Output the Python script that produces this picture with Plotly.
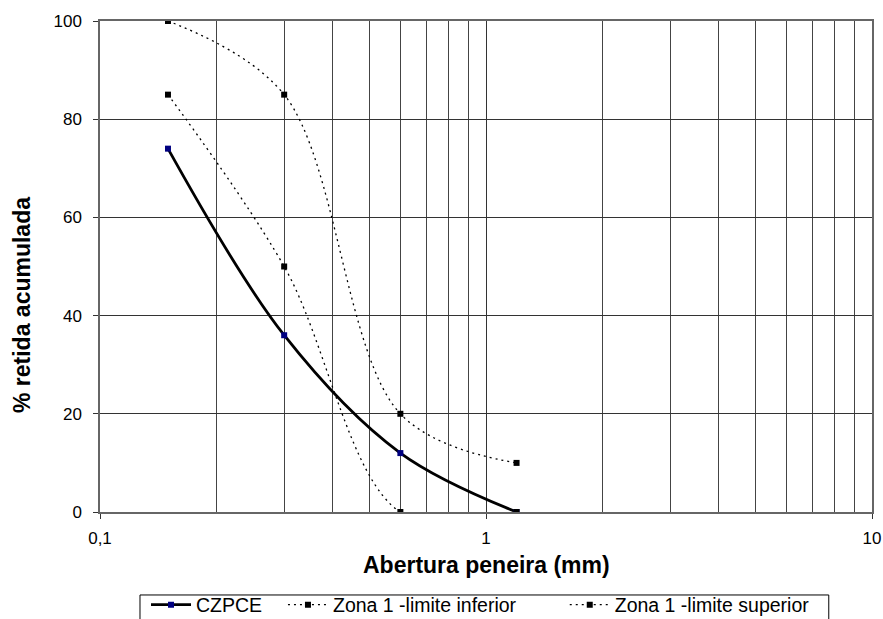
import plotly.graph_objects as go

# Data
abertura = [0.15, 0.3, 0.6, 1.2]
czpce = [74, 36, 12, 0]
lim_inferior = [85, 50, 0, 0]
lim_superior = [100, 85, 20, 10]

x_tickvals = [0.1, 1, 10]
x_ticktext = ["0,1", "1", "10"]
y_tickvals = [0, 20, 40, 60, 80, 100]

x_title = "Abertura peneira (mm)"
y_title = "% retida acumulada"

FONT = "Liberation Sans, Arial, sans-serif"

fig = go.Figure()
fig.add_trace(go.Scatter(
    x=abertura, y=czpce, name="CZPCE", mode="lines+markers", legend="legend",
    line=dict(color="black", width=2.8, shape="spline", smoothing=1),
    marker=dict(symbol="square", size=6, color="#000080",
                line=dict(color="#000080", width=0)),
))
fig.add_trace(go.Scatter(
    x=abertura, y=lim_inferior, name="Zona 1 -limite inferior", mode="lines+markers",
    legend="legend2",
    line=dict(color="black", width=1.3, dash="2px,4px", shape="spline", smoothing=1),
    marker=dict(symbol="square", size=6, color="black"),
))
fig.add_trace(go.Scatter(
    x=abertura, y=lim_superior, name="Zona 1 -limite superior", mode="lines+markers",
    legend="legend3",
    line=dict(color="black", width=1.3, dash="2px,4px", shape="spline", smoothing=1),
    marker=dict(symbol="square", size=6, color="black"),
))

LEG_Y = -0.1895


def leg(x):
    return dict(orientation="h", x=x, y=LEG_Y, xanchor="left", yanchor="middle",
                borderwidth=0, bgcolor="rgba(0,0,0,0)",
                font=dict(family=FONT, size=19.5, color="black"), itemwidth=40)


fig.update_layout(
    width=883, height=619,
    margin=dict(l=100, r=11, t=21, b=107, autoexpand=False),
    paper_bgcolor="white", plot_bgcolor="white",
    font=dict(family=FONT, size=17, color="black"),
    separators=",.",
    showlegend=True,
    legend=leg(0.0596),
    legend2=leg(0.237),
    legend3=leg(0.602),
    shapes=[dict(type="rect", xref="paper", yref="paper",
                 x0=0.0518, x1=0.944, y0=-0.169, y1=-0.26,
                 line=dict(color="black", width=1), fillcolor="rgba(0,0,0,0)",
                 layer="below")],
    annotations=[
        dict(text="<b>" + x_title + "</b>", xref="paper", yref="paper",
             x=0.5, y=-0.108, xanchor="center", yanchor="middle",
             showarrow=False, font=dict(family=FONT, size=23, color="black")),
        dict(text="<b>" + y_title + "</b>", xref="paper", yref="paper",
             x=-0.101, y=0.4216, xanchor="center", yanchor="middle", textangle=-90,
             showarrow=False, font=dict(family=FONT, size=23, color="black")),
    ],
)
fig.update_xaxes(
    type="log", range=[-1, 1],
    tickvals=x_tickvals, ticktext=x_ticktext,
    ticks="outside", ticklen=5, tickcolor="#333", tickwidth=1,
    showgrid=True, gridcolor="#333", gridwidth=1,
    minor=dict(dtick="D1", showgrid=True, gridcolor="#444", gridwidth=1, ticks=""),
    showline=True, linecolor="#666", linewidth=1.5, mirror=True,
    zeroline=False,
    tickfont=dict(size=17), ticklabelstandoff=5,
)
fig.update_yaxes(
    range=[0, 100], tickvals=y_tickvals,
    ticks="outside", ticklen=5, tickcolor="#333", tickwidth=1,
    showgrid=True, gridcolor="#333", gridwidth=1,
    showline=True, linecolor="#666", linewidth=1.5, mirror=True,
    zeroline=False,
    tickfont=dict(size=17), ticklabelstandoff=8,
)

fig.write_html("out.html")
